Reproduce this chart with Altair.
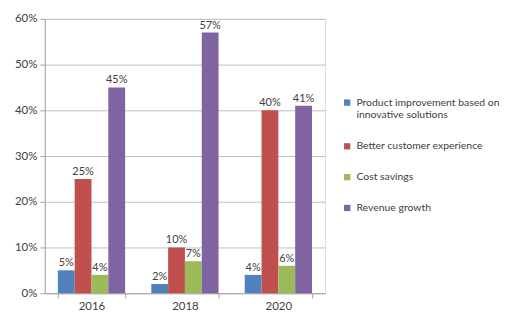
import altair as alt
import pandas as pd

years = ["2016", "2018", "2020"]
series = [
    "Product improvement based on innovative solutions",
    "Better customer experience",
    "Cost savings",
    "Revenue growth",
]
colors = ["#4F81BD", "#C0504D", "#9BBB59", "#8064A2"]
values = {
    "Product improvement based on innovative solutions": [0.05, 0.02, 0.04],
    "Better customer experience": [0.25, 0.10, 0.40],
    "Cost savings": [0.04, 0.07, 0.06],
    "Revenue growth": [0.45, 0.57, 0.41],
}

rows = []
for s in series:
    for y, v in zip(years, values[s]):
        rows.append({"year": y, "series": s, "value": v})
df = pd.DataFrame(rows)

FONT = "Lato"
TXT = "#404040"

base = alt.Chart(df).encode(
    x=alt.X("year:N", sort=years, title=None,
            scale=alt.Scale(paddingInner=0.28, paddingOuter=0.14),
            axis=alt.Axis(labelAngle=0, tickBand="extent", tickSize=5,
                          domainColor="#a6a6a6", tickColor="#a6a6a6",
                          labelFont=FONT, labelFontSize=11.5, labelColor=TXT,
                          labelPadding=2)),
    xOffset=alt.XOffset("series:N", sort=series),
)

bars = base.mark_bar().encode(
    y=alt.Y("value:Q", title=None,
            scale=alt.Scale(domain=[0, 0.6]),
            axis=alt.Axis(values=[0, 0.1, 0.2, 0.3, 0.4, 0.5, 0.6], format=".0%",
                          grid=True, gridColor="#bfbfbf", domainColor="#a6a6a6",
                          tickColor="#a6a6a6", tickSize=5,
                          labelFont=FONT, labelFontSize=11.5, labelColor=TXT,
                          labelPadding=3)),
    color=alt.Color("series:N", sort=series,
                    scale=alt.Scale(domain=series, range=colors),
                    legend=alt.Legend(title=None, orient="none",
                                      legendX=299, legendY=79,
                                      symbolType="square", symbolSize=40,
                                      symbolStrokeWidth=0, labelOffset=4,
                                      labelFont=FONT, labelFontSize=10.5,
                                      labelColor=TXT, labelLimit=160,
                                      rowPadding=20,
                                      labelExpr="datum.label == 'Product improvement based on innovative solutions' ? ['Product improvement based on', 'innovative solutions'] : datum.label")),
)

labels = base.mark_text(dy=-7, font=FONT, fontSize=11, color=TXT).encode(
    y=alt.Y("value:Q"),
    text=alt.Text("value:Q", format=".0%"),
)

chart = (bars + labels).properties(
    width=282, height=276,
    padding={"left": 6, "top": 4, "right": 0, "bottom": 0},
).configure_view(stroke=None).configure(background="white")

chart.save("out.html", embed_options={"renderer": "svg", "actions": False})
